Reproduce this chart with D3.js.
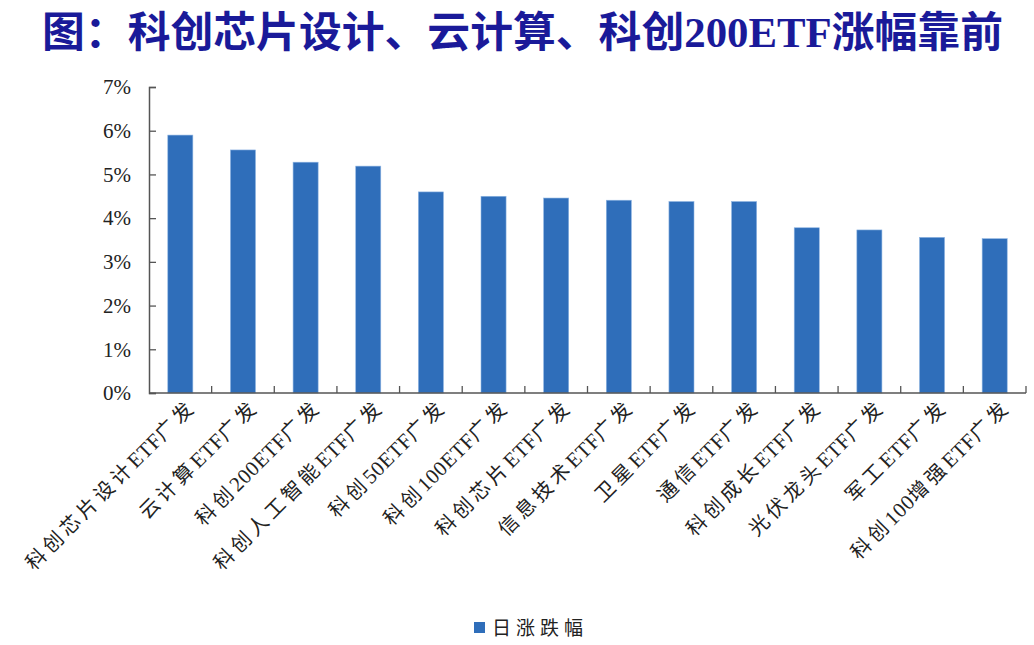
<!DOCTYPE html>
<html>
<head>
<meta charset="utf-8">
<script src="https://cdn.jsdelivr.net/npm/d3@7"></script>
<style>
  body { margin: 0; background: #fff; }
</style>
</head>
<body>
<script>
const categories = ['科创芯片设计ETF广发', '云计算ETF广发', '科创200ETF广发', '科创人工智能ETF广发',
  '科创50ETF广发', '科创100ETF广发', '科创芯片ETF广发', '信息技术ETF广发', '卫星ETF广发',
  '通信ETF广发', '科创成长ETF广发', '光伏龙头ETF广发', '军工ETF广发', '科创100增强ETF广发']
const values = [5.90, 5.56, 5.28, 5.19, 4.60, 4.50, 4.46, 4.41, 4.38, 4.38, 3.78, 3.73, 3.56, 3.53]
const yTicks = [0, 1, 2, 3, 4, 5, 6, 7]
const seriesName = '日涨跌幅'
const titleText = '图：科创芯片设计、云计算、科创200ETF涨幅靠前'

const w = 1034
const h = 645
const plotLeft = 149
const plotRight = 1026
const plotTop = 87
const plotBottom = 393
const barColor = '#2f6eba'

const svg = d3.select('body')
  .append('svg')
  .attr('width', w)
  .attr('height', h)

svg.append('text')
  .attr('x', 42)
  .attr('y', 47)
  .attr('textLength', 961)
  .attr('lengthAdjust', 'spacingAndGlyphs')
  .attr('font-family', '"Liberation Serif", "Noto Sans CJK SC"')
  .attr('font-weight', 'bold')
  .attr('font-size', 42)
  .attr('fill', '#1a1a99')
  .text(titleText)

const x = d3.scaleBand()
  .domain(categories)
  .range([plotLeft, plotRight])
  .paddingInner(0.6)
  .paddingOuter(0.3)

const y = d3.scaleLinear()
  .domain([0, 7])
  .range([plotBottom, plotTop])

// bars
svg.append('g')
  .selectAll('rect')
  .data(values)
  .enter()
  .append('rect')
  .attr('x', (d, i) => x(categories[i]))
  .attr('y', d => y(d))
  .attr('width', x.bandwidth())
  .attr('height', d => y(0) - y(d))
  .attr('fill', barColor)
  .attr('stroke', '#8db4e2')
  .attr('stroke-width', 0.6)

// y axis
const yAxis = d3.axisLeft(y)
  .tickValues(yTicks)
  .tickSize(-7)
  .tickPadding(18)
  .tickFormat(d => d + '%')

const gy = svg.append('g')
  .attr('transform', `translate(${plotLeft},0)`)
  .call(yAxis)
gy.select('.domain').attr('stroke', '#555').attr('stroke-width', 1.5)
gy.selectAll('.tick line').attr('stroke', '#555').attr('stroke-width', 1.3)
gy.selectAll('.tick text')
  .attr('font-family', '"Liberation Serif", serif')
  .attr('font-size', 21)
  .attr('fill', '#222')

// x axis baseline with inward ticks at band boundaries
const boundaries = d3.range(categories.length + 1)
  .map(i => plotLeft + i * (plotRight - plotLeft) / categories.length)
const gx = svg.append('g')
gx.append('line')
  .attr('x1', plotLeft)
  .attr('x2', plotRight)
  .attr('y1', plotBottom)
  .attr('y2', plotBottom)
  .attr('stroke', '#555')
  .attr('stroke-width', 1.5)
gx.selectAll('.xt')
  .data(boundaries.slice(1))
  .enter()
  .append('line')
  .attr('x1', d => d)
  .attr('x2', d => d)
  .attr('y1', plotBottom)
  .attr('y2', plotBottom - 7)
  .attr('stroke', '#555')
  .attr('stroke-width', 1.3)

// category labels: CJK spaced out, latin runs kept tight
const splitRuns = s => s.match(/[A-Za-z0-9]+|[^A-Za-z0-9]+/g)

const labels = gx.selectAll('.xl')
  .data(categories)
  .enter()
  .append('text')
  .attr('transform', d => `translate(${x(d) + x.bandwidth() / 2 + 12},${plotBottom + 10}) rotate(-45)`)
  .attr('text-anchor', 'end')
  .attr('dy', '0.35em')
  .attr('font-family', '"Liberation Serif", "Noto Sans CJK SC"')
  .attr('font-size', 20)
  .attr('fill', '#222')

labels.selectAll('tspan')
  .data(d => splitRuns(d))
  .enter()
  .append('tspan')
  .attr('font-size', r => /[A-Za-z0-9]/.test(r) ? 21 : 20)
  .attr('letter-spacing', r => /[A-Za-z0-9]/.test(r) ? 0.5 : 4)
  .text(r => r)

// legend
const lg = svg.append('g').attr('transform', 'translate(474,622)')
lg.append('rect')
  .attr('width', 11)
  .attr('height', 11)
  .attr('fill', barColor)
lg.append('text')
  .attr('x', 18)
  .attr('y', 6)
  .attr('dy', '0.35em')
  .attr('font-family', '"Noto Sans CJK SC", sans-serif')
  .attr('font-size', 19)
  .attr('letter-spacing', 5)
  .attr('fill', '#222')
  .text(seriesName)
</script>
</body>
</html>
